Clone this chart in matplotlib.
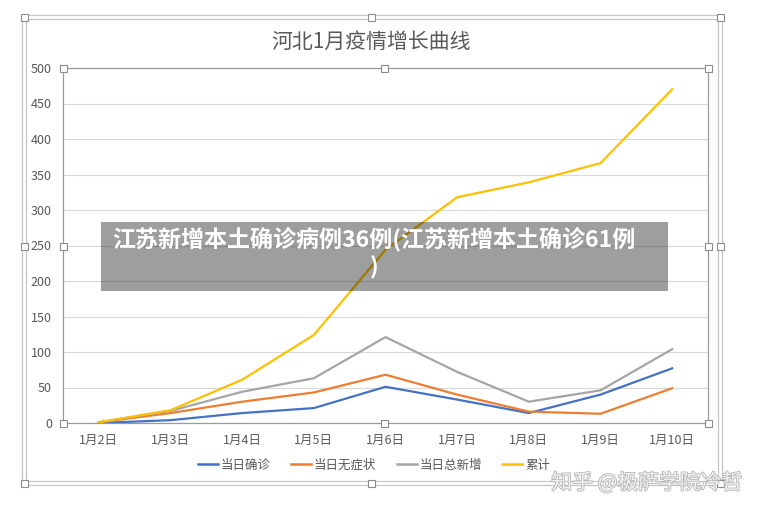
import matplotlib
matplotlib.use("Agg")
import matplotlib.pyplot as plt
from matplotlib.patches import Rectangle
from matplotlib.lines import Line2D
import matplotlib.patheffects as pe

plt.rcParams['font.family'] = ['Noto Sans CJK SC', 'DejaVu Sans']

days = ['1月2日', '1月3日', '1月4日', '1月5日', '1月6日', '1月7日', '1月8日', '1月9日', '1月10日']
confirmed = [0, 4, 14, 21, 51, 33, 14, 40, 77]
asymptomatic = [1, 14, 30, 43, 68, 40, 16, 13, 49]
total_new = [1, 17, 44, 63, 121, 72, 30, 46, 104]
cumulative = [1, 18, 61, 124, 244, 318, 339, 366, 470]

series_names = ['当日确诊', '当日无症状', '当日总新增', '累计']
series_colors = ['#4472C4', '#ED7D31', '#A5A5A5', '#FFC000']

W, H = 770, 513
fig = plt.figure(figsize=(W / 100, H / 100), dpi=100)
fig.patch.set_facecolor('white')


def px(x, y):
    # pixel coords (from top-left) -> figure fraction
    return x / W, 1 - y / H


# axes placed like the excel plot area
ax = fig.add_axes([63 / W, 1 - 423 / H, (708 - 63) / W, (423 - 68) / H])
xs = list(range(len(days)))
for vals, name, col in zip([confirmed, asymptomatic, total_new, cumulative], series_names, series_colors):
    ax.plot(xs, vals, color=col, lw=1.6, label=name, solid_joinstyle='miter', zorder=3)

ax.set_xlim(-0.5, len(days) - 0.5)
ax.set_ylim(0, 500)
ax.set_yticks(range(0, 501, 50))
ax.set_xticks(xs)
ax.set_xticklabels(days)
ax.grid(axis='y', color='#d9d9d9', lw=0.8, zorder=0)
ax.tick_params(length=0, labelsize=9, colors='#595959')
ax.tick_params(axis='y', pad=8)
ax.tick_params(axis='x', pad=8)
for s in ax.spines.values():
    s.set_color('#9a9a9a')
    s.set_linewidth(0.9)

# title
fig.text(371 / W, 1 - 42 / H, '河北1月疫情增长曲线', ha='center', va='center', fontsize=15, color='#595959')

# legend
handles = [Line2D([0], [0], color=c, lw=1.8) for c in series_colors]
fig.legend(handles, series_names, loc='center', bbox_to_anchor=px(374, 465), ncol=4, frameon=False,
           fontsize=9, handlelength=1.6, handletextpad=0.25, columnspacing=1.6, labelcolor='#595959')

# excel chart-area double frame
for (x0, y0, x1, y1) in [(22, 15, 722, 485), (26, 19, 718, 481)]:
    fx0, fy1 = px(x0, y0)
    fx1, fy0 = px(x1, y1)
    fig.add_artist(Rectangle((fx0, fy0), fx1 - fx0, fy1 - fy0, fill=False, ec='#c6c6c6', lw=0.9,
                             transform=fig.transFigure))

# selection handles
hs = 7
handle_pts = [(24, 17), (371, 17), (720, 17), (24, 246), (720, 246), (24, 483), (371, 483), (720, 483),
              (63, 68), (384, 68), (708, 68), (63, 246), (708, 246), (63, 423), (384, 423), (708, 423)]
for (hx, hy) in handle_pts:
    fx, fy = px(hx - hs / 2, hy + hs / 2)
    fig.add_artist(Rectangle((fx, fy), hs / W, hs / H, fc='white', ec='#8c8c8c', lw=0.8,
                             transform=fig.transFigure, zorder=5))

# grey overlay banner
bx0, by1 = px(101, 222)
bx1, by0 = px(668, 291)
fig.add_artist(Rectangle((bx0, by0), bx1 - bx0, by1 - by0, fc='black', alpha=0.38, ec='none',
                         transform=fig.transFigure, zorder=6))
fig.text(374 / W, 1 - 253 / H, '江苏新增本土确诊病例36例(江苏新增本土确诊61例\n)', ha='center', va='center',
         fontsize=16.6, fontweight='bold', color='white', linespacing=1.25, zorder=7)

# watermark
fig.text(647 / W, 1 - 483 / H, '知乎 @极萨学院冷哲', ha='center', va='center', fontsize=15, color='#f2f2f2',
         zorder=8, path_effects=[pe.withStroke(linewidth=1.2, foreground='#b5b5b5')])

fig.savefig('out.png', dpi=100)
